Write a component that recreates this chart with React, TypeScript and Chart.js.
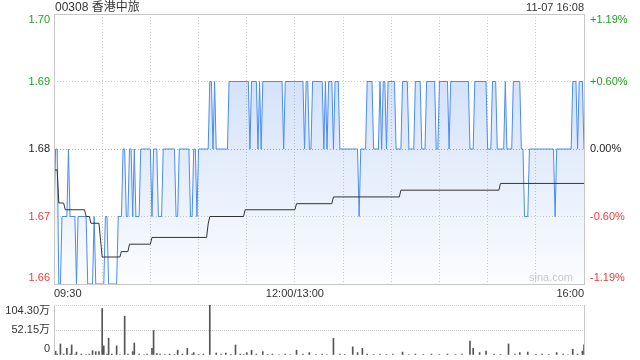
import React, { useEffect, useRef } from 'react';
import { Chart, registerables } from 'chart.js';

Chart.register(...registerables);

const TITLE = '00308 香港中旅';
const TIMESTAMP = '11-07 16:08';
const WATERMARK = 'sina.com';
const PREV_CLOSE = 1.68;

const PRICE_TICKS = [1.7, 1.69, 1.68, 1.67, 1.66];
const PRICE_TICK_LABELS = ['1.70', '1.69', '1.68', '1.67', '1.66'];
const PCT_TICK_LABELS = ['+1.19%', '+0.60%', '0.00%', '-0.60%', '-1.19%'];

const TIME_TICKS = [0, 150, 330];
const TIME_TICK_LABELS = ['09:30', '12:00/13:00', '16:00'];

const VOL_TICKS = [104.3, 52.15, 0];
const VOL_TICK_LABELS = ['104.30万', '52.15万', '0'];

// [trading minute since 09:30 (lunch removed), price]
const PRICE_POINTS: [number, number][] = [
  [0, 1.67], [1, 1.68], [2, 1.68], [3, 1.66], [4, 1.66], [5, 1.67], [8, 1.67], [9, 1.68],
  [10, 1.67], [13, 1.67], [14, 1.66], [15, 1.67], [20, 1.67], [21, 1.66], [24, 1.66],
  [25, 1.67], [26, 1.66], [31, 1.66], [32, 1.67], [33, 1.67], [34, 1.66], [39, 1.66],
  [40, 1.67], [42, 1.67], [43, 1.68], [44, 1.68], [45, 1.67], [46, 1.67], [47, 1.68],
  [48, 1.68], [49, 1.67], [50, 1.68], [51, 1.67], [53, 1.67], [54, 1.68], [60, 1.68],
  [61, 1.67], [62, 1.68], [64, 1.68], [65, 1.67], [67, 1.67], [68, 1.68], [75, 1.68],
  [76, 1.67], [77, 1.67], [78, 1.68], [84, 1.68], [85, 1.67], [86, 1.67], [87, 1.68],
  [88, 1.68], [89, 1.67], [90, 1.68], [96, 1.68], [97, 1.69], [98, 1.69], [99, 1.68],
  [100, 1.69], [101, 1.68], [108, 1.68], [109, 1.69], [121, 1.69], [122, 1.68],
  [123, 1.69], [126, 1.69], [127, 1.68], [128, 1.69], [129, 1.68], [130, 1.69],
  [142, 1.69], [143, 1.68], [144, 1.69], [155, 1.69], [156, 1.68], [157, 1.69],
  [158, 1.69], [159, 1.68], [160, 1.68], [161, 1.69], [167, 1.69], [168, 1.68],
  [169, 1.69], [170, 1.68], [171, 1.69], [173, 1.69], [174, 1.68], [175, 1.69],
  [177, 1.69], [178, 1.68], [189, 1.68], [190, 1.67], [191, 1.68], [194, 1.68],
  [195, 1.69], [198, 1.69], [199, 1.68], [202, 1.68], [203, 1.69], [204, 1.68],
  [205, 1.69], [206, 1.69], [207, 1.68], [208, 1.69], [212, 1.69], [213, 1.68],
  [216, 1.68], [217, 1.69], [220, 1.69], [221, 1.68], [224, 1.68], [225, 1.69],
  [228, 1.69], [229, 1.68], [231, 1.68], [232, 1.69], [237, 1.69], [238, 1.68],
  [239, 1.68], [240, 1.69], [245, 1.69], [246, 1.68], [247, 1.69], [258, 1.69],
  [259, 1.68], [261, 1.68], [262, 1.69], [269, 1.69], [270, 1.68], [272, 1.68],
  [273, 1.69], [275, 1.69], [276, 1.68], [280, 1.68], [281, 1.69], [282, 1.68],
  [285, 1.68], [286, 1.69], [290, 1.69], [291, 1.68], [292, 1.68], [293, 1.67],
  [295, 1.67], [296, 1.68], [311, 1.68], [312, 1.67], [313, 1.68], [322, 1.68],
  [323, 1.69], [325, 1.69], [326, 1.68], [327, 1.69], [329, 1.69], [330, 1.68],
];

// [minute, average price]
const AVG_POINTS: [number, number][] = [
  [0, 1.6769], [2, 1.6769], [3, 1.672], [6, 1.672], [7, 1.671], [19, 1.671], [20, 1.67],
  [22, 1.67], [23, 1.669], [28, 1.669], [30, 1.664], [41, 1.664], [42, 1.6648],
  [46, 1.6648], [47, 1.6659], [60, 1.6659], [61, 1.6669], [95, 1.6669], [96, 1.6689],
  [97, 1.67], [118, 1.67], [119, 1.671], [150, 1.671], [151, 1.6719], [173, 1.6719],
  [174, 1.6729], [215, 1.6729], [216, 1.6739], [277, 1.6739], [278, 1.6749], [330, 1.6749],
];

// [minute, volume in 万]
const VOLUME_BARS: [number, number][] = [
  [1, 8], [2, 2], [4, 23], [6, 2], [8, 14], [10, 2], [11, 21], [13, 1], [14, 6], [17, 2],
  [20, 1], [22, 2], [24, 9], [26, 7], [28, 7], [30, 97], [31, 19], [33, 2], [34, 35],
  [36, 2], [39, 19], [41, 1], [44, 81], [46, 2], [49, 7], [50, 25], [53, 2], [56, 1],
  [58, 2], [61, 14], [62, 51], [64, 3], [66, 2], [69, 1], [72, 2], [75, 1], [77, 10],
  [80, 2], [83, 14], [86, 2], [87, 5], [90, 1], [93, 2], [97, 104.3], [101, 4], [104, 2],
  [107, 4], [110, 1], [113, 21], [116, 2], [118, 1], [120, 5], [123, 10], [126, 2],
  [130, 7], [133, 1], [136, 2], [140, 1], [144, 2], [147, 1], [151, 10], [155, 2],
  [159, 5], [163, 1], [167, 2], [170, 1], [174, 35], [178, 2], [181, 1], [186, 17],
  [189, 5], [192, 14], [195, 2], [199, 1], [203, 2], [207, 1], [211, 2], [217, 6],
  [221, 1], [225, 2], [230, 1], [235, 2], [240, 1], [245, 2], [250, 1], [254, 2],
  [259, 29], [261, 14], [265, 5], [269, 8], [274, 2], [278, 1], [283, 23], [287, 2],
  [290, 5], [295, 6], [300, 1], [304, 2], [308, 1], [313, 5], [317, 2], [320, 1],
  [323, 12], [326, 2], [329, 8], [330, 21],
];

const FONT = '"Liberation Sans", Arial, "Noto Sans CJK SC", sans-serif';
const GREEN = '#22a022';
const RED = '#f03a3a';
const DARK = '#222';
const GRID = '#cccccc';
const FRAME = '#c8c8c8';

const colorFor = (v: number) =>
  Math.abs(v - PREV_CLOSE) < 1e-6 ? DARK : v > PREV_CLOSE ? GREEN : RED;

const edgeShift = (i: number, n: number) => (i === 0 ? 6 : i === n - 1 ? -6 : 0);

const pricePlugin = {
  id: 'priceDecor',
  afterDraw(chart: any) {
    const { ctx, chartArea } = chart;
    const { left, right, top, bottom } = chartArea;
    const y = chart.scales.y;
    ctx.save();
    ctx.strokeStyle = FRAME;
    ctx.lineWidth = 1;
    ctx.setLineDash([]);
    ctx.strokeRect(left + 0.5, top + 0.5, right - left, bottom - top);

    ctx.font = `11px ${FONT}`;
    ctx.textBaseline = 'middle';
    PRICE_TICKS.forEach((v, i) => {
      const py = y.getPixelForValue(v) + edgeShift(i, PRICE_TICKS.length);
      ctx.fillStyle = colorFor(v);
      ctx.textAlign = 'right';
      ctx.fillText(PRICE_TICK_LABELS[i], left - 4, py);
      ctx.textAlign = 'left';
      ctx.fillText(PCT_TICK_LABELS[i], right + 6, py);
    });

    ctx.fillStyle = '#333';
    ctx.font = `12px ${FONT}`;
    ctx.textAlign = 'left';
    ctx.fillText(TITLE, left + 1, 8);
    ctx.font = `11px ${FONT}`;
    ctx.textAlign = 'right';
    ctx.fillText(TIMESTAMP, right, 8);

    ctx.fillStyle = '#c8c8c8';
    ctx.font = `11px ${FONT}`;
    ctx.textAlign = 'right';
    ctx.fillText(WATERMARK, right - 11, bottom - 6);
    ctx.restore();
  },
};

const volumePlugin = {
  id: 'volDecor',
  afterDraw(chart: any) {
    const { ctx, chartArea } = chart;
    const { left, right, top, bottom } = chartArea;
    const y = chart.scales.y;
    ctx.save();
    ctx.strokeStyle = FRAME;
    ctx.lineWidth = 1;
    ctx.beginPath();
    ctx.moveTo(left + 0.5, top);
    ctx.lineTo(left + 0.5, bottom);
    ctx.moveTo(right + 0.5, top);
    ctx.lineTo(right + 0.5, bottom);
    ctx.stroke();
    ctx.font = `11px ${FONT}`;
    ctx.textBaseline = 'middle';
    ctx.textAlign = 'right';
    ctx.fillStyle = '#333';
    VOL_TICKS.forEach((v, i) => {
      const py = y.getPixelForValue(v) + edgeShift(i, VOL_TICKS.length);
      ctx.fillText(VOL_TICK_LABELS[i], left - 4, py);
    });
    ctx.restore();
  },
};

export default function App() {
  const priceRef = useRef<HTMLCanvasElement>(null);
  const volRef = useRef<HTMLCanvasElement>(null);

  useEffect(() => {
    const priceChart = new Chart(priceRef.current as HTMLCanvasElement, {
      type: 'line',
      data: {
        datasets: [
          {
            label: '均价',
            data: AVG_POINTS.map(([x, y]) => ({ x, y })),
            borderColor: '#333',
            borderWidth: 1,
            pointRadius: 0,
            fill: false,
            tension: 0,
            order: 0,
          },
          {
            label: '价格',
            data: PRICE_POINTS.map(([x, y]) => ({ x, y })),
            borderColor: '#4a8cf0',
            borderWidth: 1,
            pointRadius: 0,
            tension: 0,
            fill: 'start',
            order: 1,
            backgroundColor: (c: any) => {
              const area = c.chart.chartArea;
              if (!area) return 'rgba(70,130,230,0.15)';
              const g = c.chart.ctx.createLinearGradient(0, area.top, 0, area.bottom);
              g.addColorStop(0, 'rgba(70,130,230,0.30)');
              g.addColorStop(1, 'rgba(70,130,230,0.02)');
              return g;
            },
          },
        ],
      },
      options: {
        responsive: false,
        animation: false,
        devicePixelRatio: 1,
        layout: { padding: { top: 14, right: 56, left: 0, bottom: 0 } },
        plugins: { legend: { display: false }, tooltip: { enabled: false } },
        scales: {
          x: {
            type: 'linear',
            min: 0,
            max: 330,
            ticks: {
              stepSize: 30,
              autoSkip: false,
              maxRotation: 0,
              minRotation: 0,
              align: 'inner',
              padding: 3,
              color: '#333',
              font: { size: 11, family: FONT },
              callback: (v: any) => {
                const i = TIME_TICKS.indexOf(Number(v));
                return i >= 0 ? TIME_TICK_LABELS[i] : '';
              },
            },
            grid: { color: GRID, drawTicks: false },
            border: { display: false, dash: [1, 2] },
            afterFit: (s: any) => {
              s.height = 16;
            },
          },
          y: {
            min: 1.66,
            max: 1.7,
            ticks: { stepSize: 0.01, display: false },
            grid: {
              drawTicks: false,
              color: (c: any) =>
                c.tick && Math.abs(c.tick.value - PREV_CLOSE) < 1e-6 ? '#aaaaaa' : GRID,
            },
            border: { display: false, dash: [1, 2] },
            afterFit: (s: any) => {
              s.width = 54;
            },
          },
        },
      } as any,
      plugins: [pricePlugin],
    });

    const volChart = new Chart(volRef.current as HTMLCanvasElement, {
      type: 'bar',
      data: {
        datasets: [
          {
            label: '成交量',
            data: VOLUME_BARS.map(([x, y]) => ({ x, y })),
            backgroundColor: '#555',
            borderWidth: 0,
            barThickness: 1,
          },
        ],
      },
      options: {
        responsive: false,
        animation: false,
        devicePixelRatio: 1,
        layout: { padding: { top: 5, bottom: 5, right: 56, left: 0 } },
        plugins: { legend: { display: false }, tooltip: { enabled: false } },
        scales: {
          x: { type: 'linear', min: 0, max: 330, display: false, offset: false },
          y: {
            min: 0,
            max: 104.3,
            ticks: { display: false, stepSize: 52.15 },
            grid: {
              drawTicks: false,
              color: (c: any) => (c.tick && c.tick.value === 0 ? 'rgba(0,0,0,0)' : GRID),
            },
            border: { display: false, dash: [1, 1] },
            afterFit: (s: any) => {
              s.width = 54;
            },
          },
        },
      } as any,
      plugins: [volumePlugin],
    });

    return () => {
      priceChart.destroy();
      volChart.destroy();
    };
  }, []);

  return (
    <div style={{ position: 'absolute', left: 0, top: 0, width: 640, height: 360, background: '#fff' }}>
      <canvas
        ref={priceRef}
        width={640}
        height={300}
        style={{ position: 'absolute', left: 0, top: 0, width: 640, height: 300 }}
      />
      <canvas
        ref={volRef}
        width={640}
        height={60}
        style={{ position: 'absolute', left: 0, top: 300, width: 640, height: 60 }}
      />
    </div>
  );
}
